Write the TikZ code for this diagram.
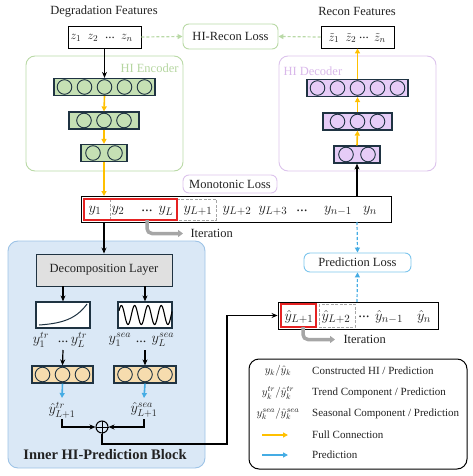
\documentclass[tikz,border=0pt]{standalone}
\usepackage{fontspec}
\setmainfont{Liberation Serif}
\usetikzlibrary{arrows.meta}
\definecolor{encfill}{HTML}{C5E0B4}
\definecolor{encline}{HTML}{B9D9A6}
\definecolor{enctext}{HTML}{B5D6A0}
\definecolor{decfill}{HTML}{E6CCF7}
\definecolor{decline}{HTML}{DCC3EC}
\definecolor{dectext}{HTML}{D9B8EA}
\definecolor{orfill}{HTML}{F6DCAE}
\definecolor{blkfill}{HTML}{DAE8F6}
\definecolor{blkline}{HTML}{9DC3E6}
\definecolor{yel}{HTML}{FFC000}
\definecolor{blu}{HTML}{45ACE4}
\definecolor{redc}{HTML}{E52222}
\definecolor{grayc}{HTML}{A6A6A6}
\definecolor{layline}{HTML}{1F3342}
\definecolor{txt}{HTML}{222222}
\begin{document}
\begin{tikzpicture}[x=1pt,y=-1pt,
  every node/.style={text=txt},
  base/.style={font=\fontsize{12.5}{14}\selectfont},
  layer/.style={draw=layline,line width=1.2pt,inner sep=0pt,minimum height=17pt},
  enclayer/.style={layer,fill=encfill},
  declayer/.style={layer,fill=decfill},
  orlayer/.style={layer,fill=orfill},
  circ/.style={draw=layline,line width=0.9pt},
  seqbox/.style={draw=black,line width=0.9pt,inner sep=0pt},
  lossbox/.style={rounded corners=6pt,line width=0.9pt,inner sep=0pt,base},
  blk/.style={-{Stealth[length=6pt,width=5pt]},line width=1.2pt,black},
  yarr/.style={-{Triangle[length=5pt,width=5pt]},line width=1.6pt,yel},
  barr/.style={-{Triangle[length=5pt,width=5pt]},line width=1.6pt,blu},
  bdash/.style={-{Triangle[length=5pt,width=5pt]},line width=1.2pt,blu,dash pattern=on 3pt off 2pt},
  gdash/.style={-{Triangle[length=5pt,width=5pt]},line width=1.2pt,encline,dash pattern=on 3pt off 2pt},
  iter/.style={-{Triangle[length=5pt,width=7pt]},line width=3.5pt,grayc,rounded corners=5pt},
  mth/.style={font=\fontsize{15}{17}\selectfont,inner sep=0pt},
  zm/.style={font=\fontsize{13}{15}\selectfont,inner sep=0pt},
  lg/.style={font=\fontsize{11}{13}\selectfont,inner sep=0pt}
]
\useasboundingbox (0,0) rectangle (473,476);

% ---------- top titles and boxes ----------
\node[base] (degt) at (104,12) {Degradation Features};
\node[base] (rect) at (357,11) {Recon Features};
\node[seqbox,minimum width=73pt,minimum height=22pt] (zb) at (104.5,37) {};
\node[zm] (z1) at (76,38) {$z_1$};
\node[zm] (z2) at (93,38) {$z_2$};
\node[zm] (zd) at (110,38) {...};
\node[zm] (zn) at (127,38) {$z_n$};
\node[seqbox,minimum width=73pt,minimum height=22pt] (rb) at (357.5,37) {};
\node[zm] (r1) at (334,38) {$\tilde z_1$};
\node[zm] (r2) at (351,38) {$\tilde z_2$};
\node[zm] (rd) at (364,38) {...};
\node[zm] (rn) at (380,38) {$\tilde z_n$};
\node[lossbox,draw=encline,minimum width=95pt,minimum height=25pt] (hrl) at (230.5,36.5) {HI-Recon Loss};
\draw[gdash] (zb.east) -- (hrl.west);
\draw[gdash] (rb.west) -- (hrl.east);

% ---------- encoder ----------
\draw[encline,line width=0.9pt,rounded corners=9pt] (26,56) rectangle (183,171);
\node[base,text=enctext,anchor=east] (enct) at (182,68) {HI Encoder};
\node[enclayer,minimum width=101pt] (e1) at (104.5,87) {};
\node[enclayer,minimum width=70pt] (e2) at (104,120.5) {};
\node[enclayer,minimum width=46pt] (e3) at (104,153) {};
\foreach \d in {-40,-20,0,20,40} \draw[circ] ([xshift=\d pt]e1.center) circle[radius=7.3pt];
\foreach \d in {-20,0,20} \draw[circ] ([xshift=\d pt]e2.center) circle[radius=7.3pt];
\foreach \d in {-11,11} \draw[circ] ([xshift=\d pt]e3.center) circle[radius=7.3pt];
\draw[blk] (zb.south) -- (e1.north);
\draw[yarr] (e1.south) -- (e2.north);
\draw[yarr] (e2.south) -- (e3.north);

% ---------- decoder ----------
\draw[decline,line width=0.9pt,rounded corners=9pt] (279,56) rectangle (436,171);
\node[base,text=dectext,anchor=west] (dect) at (280,71) {HI Decoder};
\node[declayer,minimum width=101pt] (d3) at (357.5,88) {};
\node[declayer,minimum width=69pt] (d2) at (357.5,121.5) {};
\node[declayer,minimum width=46pt] (d1) at (357,154.5) {};
\foreach \d in {-40,-20,0,20,40} \draw[circ] ([xshift=\d pt]d3.center) circle[radius=7.3pt];
\foreach \d in {-20,0,20} \draw[circ] ([xshift=\d pt]d2.center) circle[radius=7.3pt];
\foreach \d in {-11,11} \draw[circ] ([xshift=\d pt]d1.center) circle[radius=7.3pt];
\draw[yarr] (d1.north) -- (d2.south);
\draw[yarr] (d2.north) -- (d3.south);
\draw[yarr] (d3.north) -- (rb.south);

% ---------- monotonic loss & y sequence ----------
\node[lossbox,draw=decline,minimum width=94pt,minimum height=18pt] (mono) at (230,184) {Monotonic Loss};
\node[seqbox,minimum width=310pt,minimum height=26pt] (yb) at (236,209) {};
\draw[grayc,line width=0.9pt,dash pattern=on 3pt off 1.5pt] (110,199) rectangle (216,220);
\draw[redc,line width=1.4pt] (84,199) rectangle (177,220);
\node[mth] (y1) at (95,211) {$y_1$};
\node[mth] (y2) at (118,211) {$y_2$};
\node[mth] (ydA) at (147,211) {...};
\node[mth] (yL) at (166,211) {$y_L$};
\node[mth] (yL1) at (198,211) {$y_{L+1}$};
\node[mth] (yL2) at (237,211) {$y_{L+2}$};
\node[mth] (yL3) at (273,211) {$y_{L+3}$};
\node[mth] (ydB) at (302,211) {...};
\node[mth] (yn1) at (338,211) {$y_{n-1}$};
\node[mth] (yn) at (370,211) {$y_n$};
\draw[yarr] (e3.south) -- (104,196);
\draw[blk] (357,196) -- (d1.south);
\coordinate (it1e) at (183,233.5);
\draw[iter] (147,220) |- (it1e);
\node[base,anchor=west] (it1) at (187,233.5) {Iteration};

% ---------- inner block ----------
\draw[blkline,fill=blkfill,line width=0.9pt,rounded corners=10pt] (8,241) rectangle (205,468);
\node[base,draw=layline,fill=black!12,line width=0.9pt,minimum width=136pt,minimum height=32pt,inner sep=0pt] (dec) at (104,270) {Decomposition Layer};
\draw[blk] (104,222) -- (dec.north);
\node[draw=layline,fill=white,line width=1.2pt,minimum width=54pt,minimum height=26pt,inner sep=0pt] (trb) at (63,315) {};
\node[draw=layline,fill=white,line width=1.2pt,minimum width=54pt,minimum height=26pt,inner sep=0pt] (seb) at (145,315) {};
\draw[layline,line width=1pt] plot[domain=0:1,samples=40] ({39+48*\x},{325-21*(exp(3*\x)-1)/(exp(3)-1)});
\draw[black,line width=1.1pt] plot[domain=119:172,samples=120] (\x,{315+9.5*cos(360*(\x-128)/13.3)});
\draw[blk] (63,286) -- (trb.north);
\draw[blk] (145,286) -- (seb.north);
\node[mth,font=\fontsize{14}{16}\selectfont] (t1) at (41,340) {$y_1^{tr}$};
\node[mth,font=\fontsize{14}{16}\selectfont] (td) at (63,342) {...};
\node[mth,font=\fontsize{14}{16}\selectfont] (tL) at (79,340) {$y_L^{tr}$};
\node[mth,font=\fontsize{14}{16}\selectfont] (s1) at (120,340) {$y_1^{sea}$};
\node[mth,font=\fontsize{14}{16}\selectfont] (sd) at (141,342) {...};
\node[mth,font=\fontsize{14}{16}\selectfont] (sL) at (163,340) {$y_L^{sea}$};
\node[orlayer,minimum width=61pt] (o1) at (62.5,374.5) {};
\node[orlayer,minimum width=62pt] (o2) at (145,374.5) {};
\foreach \d in {-20,0,20} \draw[circ] ([xshift=\d pt]o1.center) circle[radius=7.3pt];
\foreach \d in {-20,0,20} \draw[circ] ([xshift=\d pt]o2.center) circle[radius=7.3pt];
\draw[blk] (63,350) -- (o1.north);
\draw[blk] (145,350) -- (o2.north);
\node[mth,font=\fontsize{14}{16}\selectfont] (ptr) at (62,410) {$\hat y_{L+1}^{tr}$};
\node[mth,font=\fontsize{14}{16}\selectfont] (pse) at (144,410) {$\hat y_{L+1}^{sea}$};
\draw[barr] (o1.south) -- (62,398);
\draw[barr] (o2.south) -- (144,398);
\node[circle,draw=black,line width=1pt,minimum size=12pt,inner sep=0pt] (op) at (102,427) {};
\draw[line width=0.8pt] (op.north) -- (op.south) (op.west) -- (op.east);
\draw[blk] (62,419) |- (op.west);
\draw[blk] (144,419) |- (op.east);
\node[font=\bfseries\fontsize{14.5}{16}\selectfont] (ibl) at (105,455) {Inner HI-Prediction Block};

% ---------- prediction side ----------
\node[lossbox,draw=blu!70,minimum width=107pt,minimum height=19pt] (pl) at (357.5,262.5) {Prediction Loss};
\draw[bdash] (357,222) -- (pl.north);
\node[seqbox,minimum width=160pt,minimum height=27pt] (yh) at (358,315.5) {};
\draw[grayc,line width=0.9pt,dash pattern=on 3pt off 1.5pt] (319,304) rectangle (355,327);
\draw[redc,line width=1.4pt] (281,304) rectangle (316,327);
\node[mth] (h1) at (299,317) {$\hat y_{L+1}$};
\node[mth] (h2) at (336,317) {$\hat y_{L+2}$};
\node[mth] (hd) at (364,317) {...};
\node[mth] (hn1) at (389,317) {$\hat y_{n-1}$};
\node[mth] (hn) at (424,317) {$\hat y_n$};
\draw[bdash] (357,302) -- (pl.south);
\coordinate (c1) at (227,444);
\draw[blk] (op.south) |- (c1) |- (yh.west);
\coordinate (it2e) at (335,339.5);
\draw[iter] (303,327) |- (it2e);
\node[base,anchor=west] (it2) at (340,339.5) {Iteration};

% ---------- legend ----------
\draw[black,line width=1pt,rounded corners=10pt] (249,359) rectangle (467,469);
\node[lg] (l1s) at (278,371) {$y_k/\hat y_k$};
\node[lg] (l2s) at (278,393) {$y_k^{tr}/\hat y_k^{tr}$};
\node[lg] (l3s) at (278,414) {$y_k^{sea}/\hat y_k^{sea}$};
\coordinate (la1) at (262,435); \coordinate (lb1) at (288,435);
\coordinate (la2) at (262,455); \coordinate (lb2) at (288,455);
\draw[yarr,line width=1.3pt] (la1) -- (lb1);
\draw[barr,line width=1.3pt] (la2) -- (lb2);
\node[lg,anchor=west] (l1t) at (312,371) {Constructed HI / Prediction};
\node[lg,anchor=west] (l2t) at (312,393) {Trend Component / Prediction};
\node[lg,anchor=west] (l3t) at (312,414) {Seasonal Component / Prediction};
\node[lg,anchor=west] (l4t) at (312,435) {Full Connection};
\node[lg,anchor=west] (l5t) at (312,455) {Prediction};
\end{tikzpicture}
\end{document}
